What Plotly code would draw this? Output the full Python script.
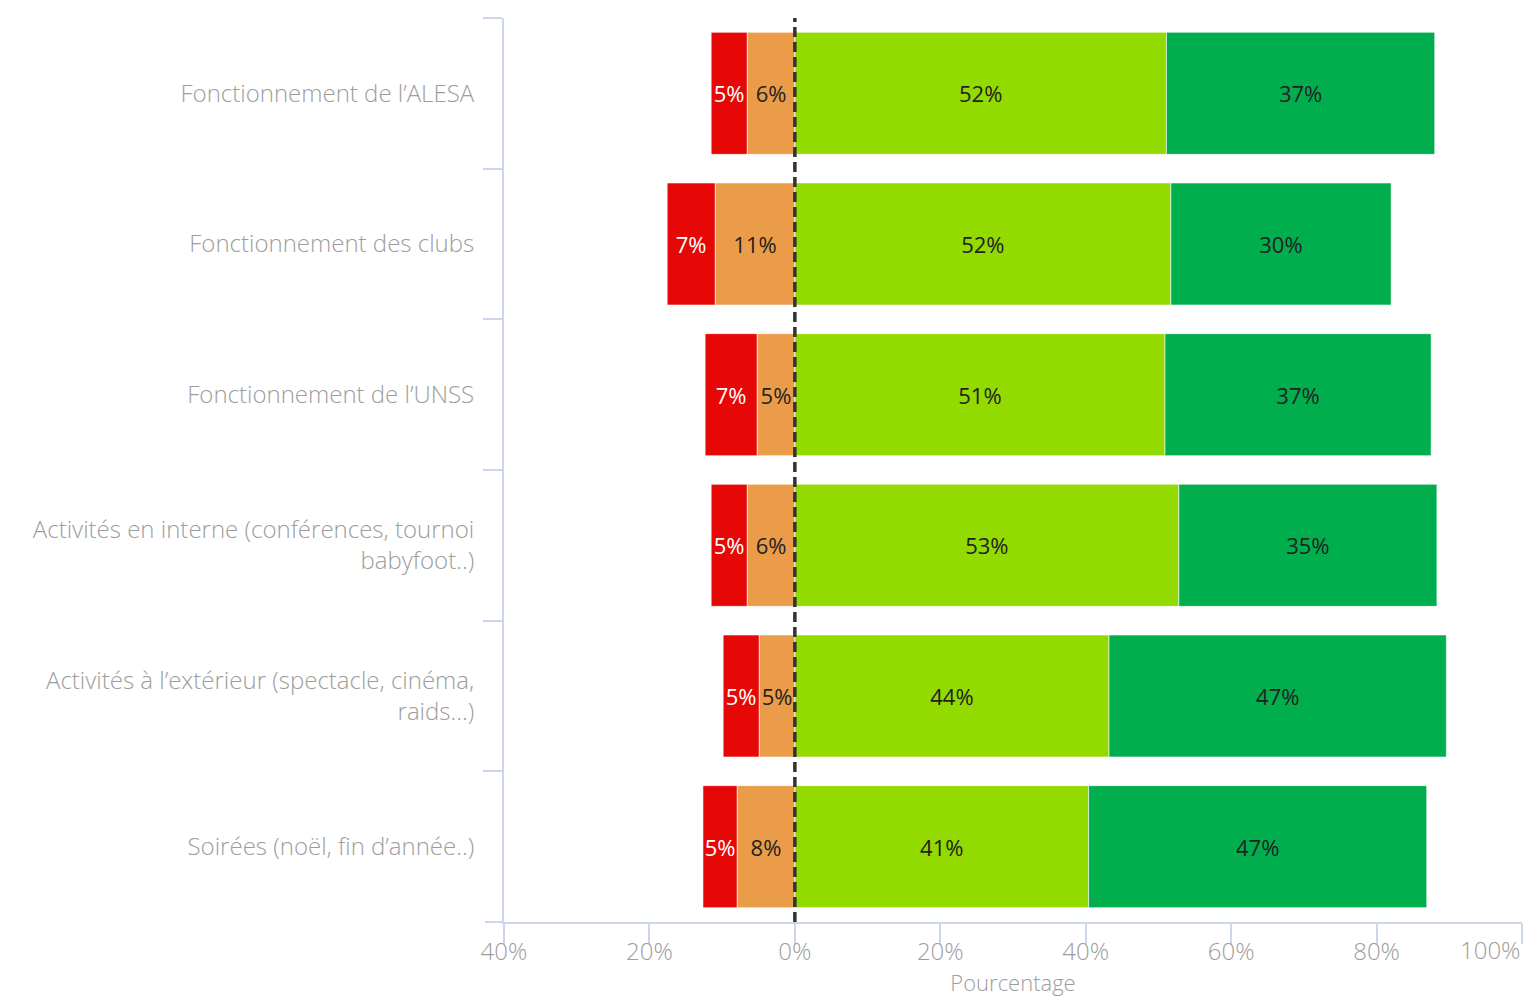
import plotly.graph_objects as go

categories = [
    "Fonctionnement de l’ALESA",
    "Fonctionnement des clubs",
    "Fonctionnement de l’UNSS",
    "Activités en interne (conférences, tournoi<br>babyfoot..)",
    "Activités à l’extérieur (spectacle, cinéma,<br>raids...)",
    "Soirées (noël, fin d’année..)",
]

# measured segment widths (percent)
tres_insatisfait = [4.95, 6.6, 7.15, 4.95, 4.95, 4.7]
insatisfait = [6.56, 10.96, 5.19, 6.56, 4.91, 7.94]
satisfait = [51.1, 51.7, 50.9, 52.8, 43.2, 40.4]
tres_satisfait = [36.9, 30.3, 36.6, 35.5, 46.4, 46.5]

# labels as printed on the bars
lbl_tres_insatisfait = ["5%", "7%", "7%", "5%", "5%", "5%"]
lbl_insatisfait = ["6%", "11%", "5%", "6%", "5%", "8%"]
lbl_satisfait = ["52%", "52%", "51%", "53%", "44%", "41%"]
lbl_tres_satisfait = ["37%", "30%", "37%", "35%", "47%", "47%"]

x_tickvals = [-40, -20, 0, 20, 40, 60, 80, 100]
x_ticktext = ["40%", "20%", "0%", "20%", "40%", "60%", "80%", "100%"]

FONT = "Open Sans"
AXIS_COLOR = "#ccd6eb"
LABEL_COLOR = "#9d9d9d"
TICKFONT = dict(family=FONT, size=24, color=LABEL_COLOR, weight=300)

fig = go.Figure()

def add(vals, labels, color, textcolor, sign):
    fig.add_trace(go.Bar(
        y=categories,
        x=[sign * v for v in vals],
        orientation="h",
        marker=dict(color=color, line=dict(color="rgba(255,255,255,0.6)", width=1)),
        text=labels,
        textposition="inside",
        insidetextanchor="middle",
        textangle=0,
        constraintext="none",
        textfont=dict(family=FONT, size=22, color=textcolor, weight=400),
        showlegend=False,
        hoverinfo="skip",
    ))

add(insatisfait, lbl_insatisfait, "#ea9c48", "#222222", -1)
add(tres_insatisfait, lbl_tres_insatisfait, "#e60707", "#ffffff", -1)
add(satisfait, lbl_satisfait, "#93da00", "#222222", 1)
add(tres_satisfait, lbl_tres_satisfait, "#00ae4e", "#222222", 1)

# last tick label is right-aligned at the plot edge (as in the reference)
shown_ticktext = x_ticktext[:-1] + [""]

fig.update_layout(
    width=1526,
    height=1000,
    margin=dict(l=504, r=4, t=18, b=78),
    barmode="relative",
    bargap=0.19,
    plot_bgcolor="white",
    paper_bgcolor="white",
    font=dict(family=FONT, color=LABEL_COLOR),
    xaxis=dict(
        range=[-40, 100],
        automargin=False,
        tickvals=x_tickvals,
        ticktext=shown_ticktext,
        showgrid=False,
        zeroline=False,
        showline=True,
        linecolor=AXIS_COLOR,
        linewidth=2,
        ticks="outside",
        ticklen=20,
        tickwidth=2,
        tickcolor=AXIS_COLOR,
        ticklabelstandoff=-13,
        tickfont=TICKFONT,
        title=dict(text="Pourcentage", font=dict(family=FONT, size=22, color=LABEL_COLOR, weight=300), standoff=8),
    ),
    yaxis=dict(
        range=[5.5, -0.5],
        automargin=False,
        showgrid=False,
        zeroline=False,
        showline=True,
        linecolor=AXIS_COLOR,
        linewidth=2,
        ticks="outside",
        tickson="boundaries",
        ticklen=19,
        tickwidth=2,
        tickcolor=AXIS_COLOR,
        ticklabelstandoff=23,
        tickfont=TICKFONT,
    ),
    shapes=[
        dict(type="line", xref="x", yref="paper", x0=0, x1=0, y0=0, y1=1,
             line=dict(color="#333333", width=3.5, dash="10px,5px"), layer="above"),
        dict(type="line", xref="x domain", yref="paper", x0=-19 / 1018, x1=0, y0=0, y1=0,
             line=dict(color=AXIS_COLOR, width=2)),
    ],
    annotations=[
        dict(x=x_tickvals[-1], xref="x", y=0, yref="paper", text=x_ticktext[-1],
             xanchor="right", yanchor="middle", yshift=-27, showarrow=False,
             font=TICKFONT),
    ],
)

fig.write_html("out.html", config={"displayModeBar": False},
               post_script="document.body.style.margin='0';")
